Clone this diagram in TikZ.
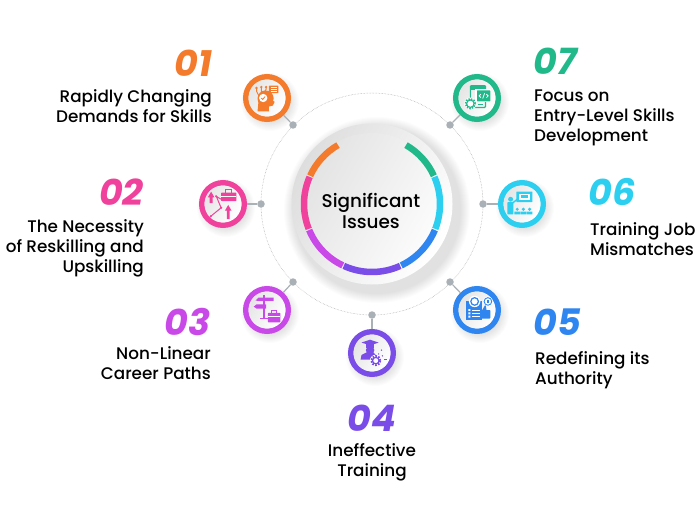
\documentclass[tikz,border=0pt]{standalone}
\usepackage{fontspec}
\setmainfont{Poppins}
\newfontfamily\labelfont{Poppins Medium}
\usetikzlibrary{calc}
\definecolor{cOrange}{HTML}{F47A2C}
\definecolor{cPink}{HTML}{F0429C}
\definecolor{cMagenta}{HTML}{C948E8}
\definecolor{cViolet}{HTML}{7A4CE8}
\definecolor{cBlue}{HTML}{2F86F0}
\definecolor{cCyan}{HTML}{2CCFF0}
\definecolor{cGreen}{HTML}{22B98A}
\definecolor{cDot}{HTML}{A9B1B6}
% soft shadow: x, y, radius
\newcommand{\softshadow}[3]{%
  \foreach \rr in {0,1,...,9}
    \fill[black,opacity=0.011] ($(#1,#2)+(3,-4)$) circle[radius=#3-4+\rr];}
% grey-to-white face inside an icon ring
\newcommand{\iconface}[1]{%
  \shade[top color=black!10,bottom color=white,shading angle=60] (#1) circle[radius=18.5];}
% icons, drawn round (0,0) in the current colour
\newcommand{\iconHead}{%
  \fill (-1.5,-.5) circle[radius=8.5];
  \fill (-10,-14) -- (-9,-4) -- (6,-3) -- (8,-4) -- (6,-8) -- (2,-9) -- (2,-14) -- cycle;
  \fill[white] (-4,0) circle[radius=4.4];
  \draw[line width=.9] (-6,0) -- (-4.5,-1.5) -- (-2,1.5);
  \draw[line width=.9] (-9,3) -- (-11,7) -- (-11,10) (-6,6) -- (-6,11) (-3,6) -- (-1,9) -- (-1,11);
  \fill (-11,10.5) circle[radius=1.4] (-6,11.5) circle[radius=1.4] (-1,11.5) circle[radius=1.4];
  \fill[rounded corners=.5] (2,5) rectangle (12,13);
  \draw[white,line width=.6] (4,11) -- (10,11) (4,9) -- (10,9) (4,7) -- (10,7);}
\newcommand{\iconCode}{%
  \draw[line width=1.2,rounded corners=1] (-7,-10) rectangle (9,13);
  \fill (-7,8) rectangle (9,13);
  \fill[white] (-2,-4) rectangle (15,9);
  \fill[rounded corners=.5] (0,-3.5) rectangle (14,8);
  \draw[white,line width=.8] (4,4) -- (2.2,2.2) -- (4,.4) (10,4) -- (11.8,2.2) -- (10,.4) (8,5) -- (6,-.6);
  \draw[line width=1] (1,-7) -- (6,-7);
  \fill[white] (-7,-6) circle[radius=6.5];
  \draw[line width=2,dash pattern=on 1.4pt off 1.2pt] (-7,-6) circle[radius=5];
  \draw[line width=1.1] (-7,-6) circle[radius=3.9];}
\newcommand{\iconCase}{%
  \fill[rounded corners=.6] (-2,3) rectangle (14,12);
  \draw[line width=1] (3,12) -- (3,15) -- (9,15) -- (9,12);
  \draw[white,line width=.8] (-2,8) -- (14,8);
  \fill (-14,1) rectangle (-11,8) (-16,7) -- (-12.5,13) -- (-9,7) -- cycle;
  \fill (4,-16) rectangle (7,-7) (2,-7) -- (5.5,-1) -- (9,-7) -- cycle;
  \draw[line width=1] (-2,5) -- (-7,8) -- (-2,-4) -- (-13,-13);
  \fill (-7,8) circle[radius=1.3] (-2,-4) circle[radius=1.3] (-13,-13) circle[radius=1.3];}
\newcommand{\iconClass}{%
  \fill (-12,5) circle[radius=2.6];
  \fill[rounded corners=.8] (-15.5,-11) rectangle (-9,2);
  \draw[line width=1.4] (-10,1) -- (-5,5);
  \fill[rounded corners=.5] (-6,2) rectangle (11,13);
  \fill[white] (-3,4) rectangle (8,11);
  \fill (-1,6) rectangle (6,9.5);
  \fill (-5,-5.5) circle[radius=1.8] (1.5,-5.5) circle[radius=1.8] (8,-5.5) circle[radius=1.8];
  \fill (-8,-11) rectangle (-2,-8) (-1.5,-11) rectangle (4.5,-8) (5,-11) rectangle (11,-8);}
\newcommand{\iconBoard}{%
  \fill (-12,-11) rectangle (5,9);
  \fill[white] (-9,-1) rectangle (-7,1) (-9,-4.5) rectangle (-7,-2.5) (-9,-8) rectangle (-7,-6);
  \draw[white,line width=.8] (-5,0) -- (3,0) (-5,-3.5) -- (3,-3.5) (-5,-7) -- (3,-7);
  \fill[white] (-2.5,9) circle[radius=6];
  \draw[line width=1.2] (-2.5,9) circle[radius=4];
  \fill[rounded corners=.8] (4,-9) rectangle (14,0);
  \fill (5.5,0) -- (9,6) -- (10,0) -- cycle;
  \fill[white] (11.5,9) circle[radius=5.2];
  \draw[line width=.9] (11.5,9) circle[radius=4];
  \fill (10.8,7) rectangle (12.2,11);}
\newcommand{\iconSign}{%
  \fill (-3.8,-9) rectangle (-2.2,16);
  \fill (-7,-9.5) rectangle (1,-8);
  \fill (-12,10) -- (-9,13) -- (7,13) -- (7,9.5) -- (-9,9.5) -- cycle;
  \fill (-14,3.5) -- (-11,6) -- (-1,6) -- (-1,1.5) -- (-11,1.5) -- cycle;
  \fill[rounded corners=.6] (1,-13) rectangle (14,-3);
  \draw[line width=1] (5,-3) -- (5,0) -- (10,0) -- (10,-3);
  \draw[white,line width=.8] (1,-7) -- (14,-7);}
\newcommand{\iconGrad}{%
  \fill (-11,11) -- (-2,14) -- (7,11) -- (-2,8) -- cycle;
  \fill (-6,9) -- (-6,5) -- (2,5) -- (2,9) -- cycle;
  \fill (-2,3) circle[radius=4.5];
  \fill (-12,-7) -- (-11,-2) -- (-5,1) -- (1,1) -- (4,-2) -- (1,-7) -- cycle;
  \fill[white] (4,-8) circle[radius=6.2];
  \draw[line width=2,dash pattern=on 1.6pt off 1.3pt] (4,-8) circle[radius=4.8];
  \draw[line width=1.2] (4,-8) circle[radius=3.4];
  \fill (7,-1) circle[radius=.8] (10,3) circle[radius=.8] (11,-3) circle[radius=.8];
  \draw[line width=.6] (13,-7) -- (16,-7);}
\begin{document}
\begin{tikzpicture}[x=1pt,y=1pt,
  numtxt/.style={inner sep=0pt,font=\fontsize{36.5}{36.5}\selectfont\bfseries\itshape},
  labtxt/.style={inner sep=0pt,font=\labelfont\fontsize{16.8}{20}\selectfont},
  icn/.style={draw,circle,line width=5.5pt,fill=white,minimum size=42.5pt,inner sep=0pt},
  pin/.style={circle,fill=cDot,minimum size=7.5pt,inner sep=0pt},
  link/.style={draw=cDot,line width=1.2pt},
  seg/.style={line width=6.5pt}]
  \useasboundingbox (0,0) rectangle (700,504);
  \fill[white] (0,0) rectangle (700,504);
  \coordinate (c) at (372,300);
  % dotted ring with its pins
  \draw[gray!70,line width=.5pt,densely dotted] (c) circle[radius=111];
  \node[pin] (p1) at (293,379) {};
  \node[pin] (p2) at (261,300) {};
  \node[pin] (p3) at (293,222) {};
  \node[pin] (p4) at (372,189) {};
  \node[pin] (p5) at (450,222) {};
  \node[pin] (p6) at (483,300) {};
  \node[pin] (p7) at (450,379) {};
  % shadows
  \softshadow{267}{406}{24}
  \softshadow{223}{300}{24}
  \softshadow{267}{194}{24}
  \softshadow{372}{151}{24}
  \softshadow{477}{194}{24}
  \softshadow{522}{300}{24}
  \softshadow{477}{406}{24}
  % icon rings
  \node[icn,draw=cOrange] (i1) at (267,406) {};
  \node[icn,draw=cPink] (i2) at (223,300) {};
  \node[icn,draw=cMagenta] (i3) at (267,194) {};
  \node[icn,draw=cViolet] (i4) at (372,151) {};
  \node[icn,draw=cBlue] (i5) at (477,194) {};
  \node[icn,draw=cCyan] (i6) at (522,300) {};
  \node[icn,draw=cGreen] (i7) at (477,406) {};
  \draw[link] (p1) -- (i1);
  \draw[link] (p2) -- (i2);
  \draw[link] (p3) -- (i3);
  \draw[link] (p4) -- (i4);
  \draw[link] (p5) -- (i5);
  \draw[link] (p6) -- (i6);
  \draw[link] (p7) -- (i7);
  % icons
  \iconface{i1} \iconface{i2} \iconface{i3} \iconface{i4} \iconface{i5} \iconface{i6} \iconface{i7}
  \begin{scope}[shift={(i1)},color=cOrange,scale=.95]\iconHead\end{scope}
  \begin{scope}[shift={(i2)},color=cPink,scale=.95]\iconCase\end{scope}
  \begin{scope}[shift={(i3)},color=cMagenta,scale=.95]\iconSign\end{scope}
  \begin{scope}[shift={(i4)},color=cViolet,scale=.95]\iconGrad\end{scope}
  \begin{scope}[shift={(i5)},color=cBlue,scale=.95]\iconBoard\end{scope}
  \begin{scope}[shift={(i6)},color=cCyan,scale=.95]\iconClass\end{scope}
  \begin{scope}[shift={(i7)},color=cGreen,scale=.95]\iconCode\end{scope}
  % centre disc
  \softshadow{374}{298}{88}
  \shade[top color=black!13,bottom color=white,shading angle=60] (c) circle[radius=80.5];
  \shade[top color=black!11,bottom color=black!1,shading angle=60] (c) circle[radius=71];
  \draw[seg,cOrange] ($(c)+(120:68)$) arc[start angle=120,end angle=155.5,radius=68];
  \draw[seg,cPink] ($(c)+(156.5:68)$) arc[start angle=156.5,end angle=201.5,radius=68];
  \draw[seg,cMagenta] ($(c)+(202.5:68)$) arc[start angle=202.5,end angle=244.5,radius=68];
  \draw[seg,cViolet] ($(c)+(245.5:68)$) arc[start angle=245.5,end angle=294.5,radius=68];
  \draw[seg,cBlue] ($(c)+(295.5:68)$) arc[start angle=295.5,end angle=337.5,radius=68];
  \draw[seg,cCyan] ($(c)+(338.5:68)$) arc[start angle=338.5,end angle=383.5,radius=68];
  \draw[seg,cGreen] ($(c)+(384.5:68)$) arc[start angle=384.5,end angle=420,radius=68];
  \node[inner sep=0pt,align=center,font=\labelfont\fontsize{18.4}{21}\selectfont] (core) at (371,293) {Significant\\Issues};
  % numbers and labels
  \node[numtxt,cOrange,anchor=east] (n1) at (212,441) {01};
  \node[labtxt,anchor=east,align=right] (t1) at (212,398) {Rapidly Changing\\Demands for Skills};
  \node[numtxt,cPink,anchor=east] (n2) at (144,312) {02};
  \node[labtxt,anchor=east,align=right] (t2) at (144,256) {The Necessity\\of Reskilling and\\Upskilling};
  \node[numtxt,cMagenta,anchor=east] (n3) at (211,182) {03};
  \node[labtxt,anchor=east,align=right] (t3) at (211,141) {Non-Linear\\Career Paths};
  \node[numtxt,cViolet] (n4) at (372,86) {04};
  \node[labtxt,align=center] (t4) at (372,41.5) {Ineffective\\Training};
  \node[numtxt,cBlue,anchor=west] (n5) at (533,182) {05};
  \node[labtxt,anchor=west,align=left] (t5) at (535,134) {Redefining its\\Authority};
  \node[numtxt,cCyan,anchor=west] (n6) at (588,312) {06};
  \node[labtxt,anchor=west,align=left] (t6) at (590,265) {Training Job\\Mismatches};
  \node[numtxt,cGreen,anchor=west] (n7) at (533,443) {07};
  \node[labtxt,anchor=west,align=left] (t7) at (534,386.5) {Focus on\\Entry-Level Skills\\Development};
\end{tikzpicture}
\end{document}
